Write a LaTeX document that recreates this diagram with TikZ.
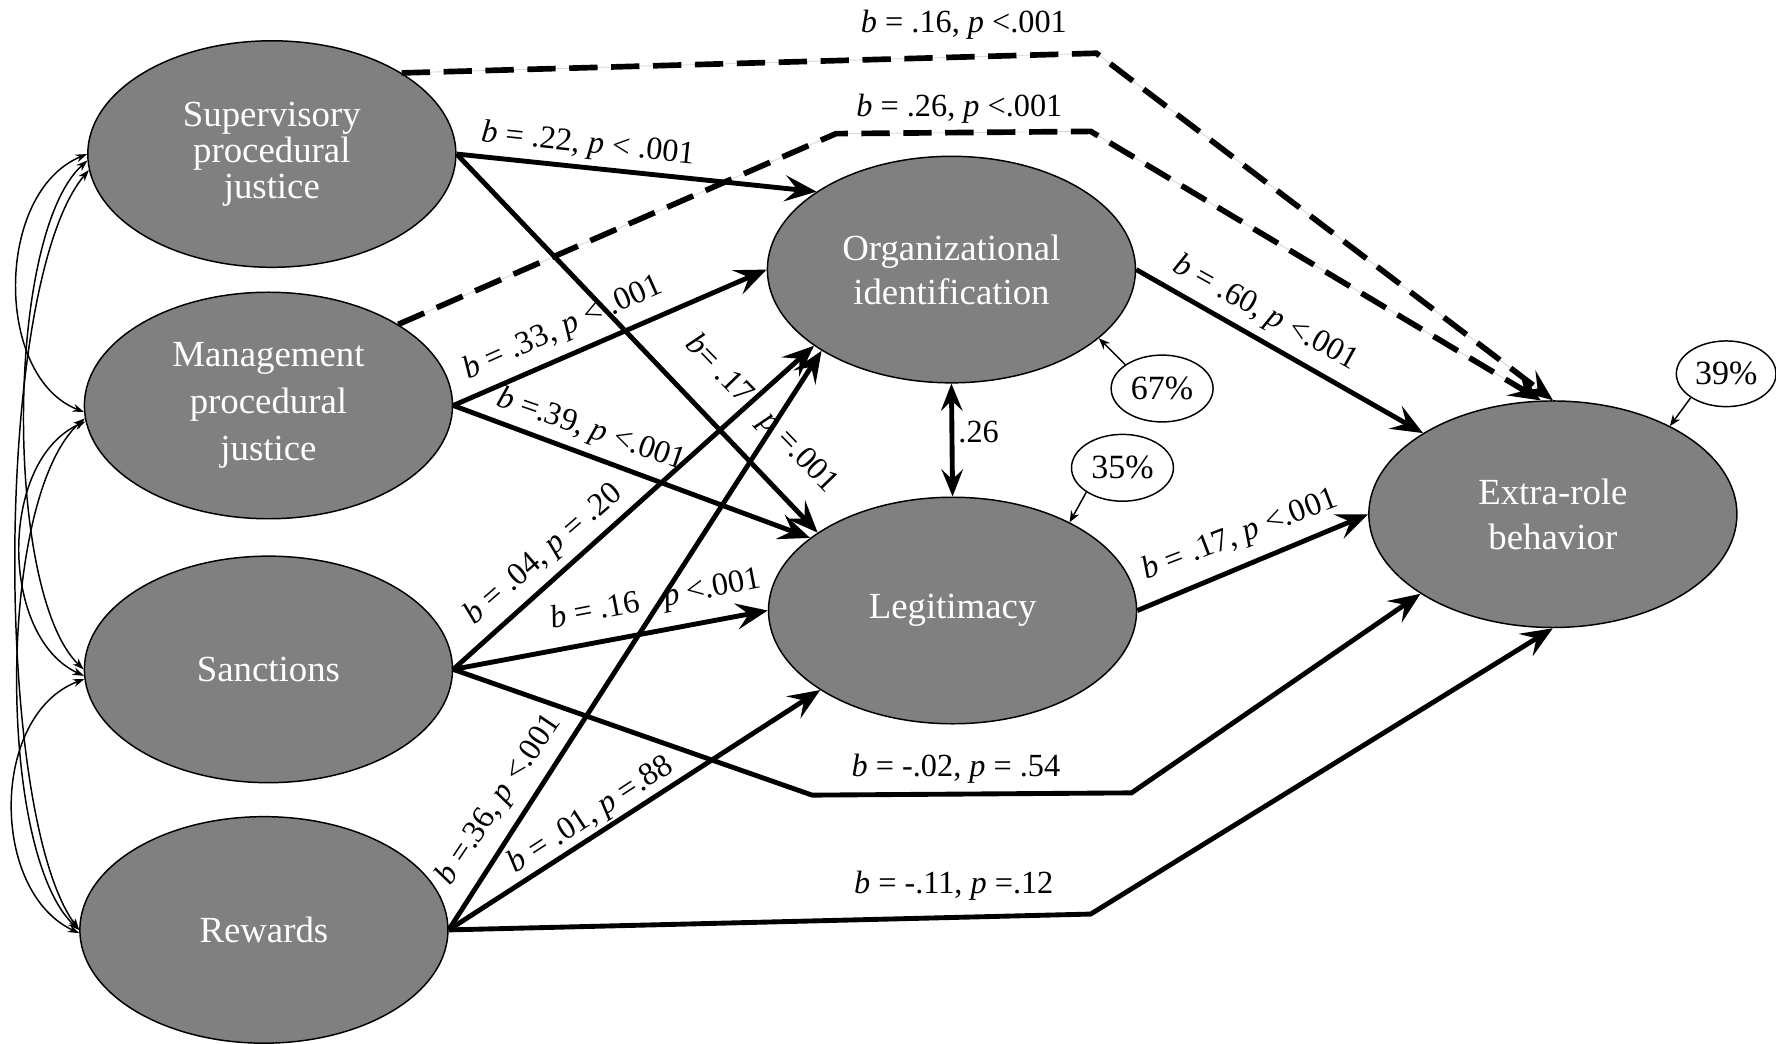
\documentclass[tikz,border=0pt]{standalone}
\usepackage{fontspec}
\setmainfont{Liberation Serif}
\usetikzlibrary{shapes.geometric,arrows.meta}
\definecolor{nodegray}{RGB}{128,128,128}
\tikzset{
  lat/.style={ellipse, draw=black, line width=1.3pt, fill=nodegray, text=white,
    minimum width=325pt, minimum height=200pt, inner sep=0pt, align=center},
  pct/.style={ellipse, draw=black, line width=1.3pt, fill=white, inner sep=0pt,
    minimum width=90pt, minimum height=59pt, font=\fontsize{30}{32}\selectfont},
  conn/.style={line width=4.3pt, -{Stealth[length=28pt,width=23pt,inset=11pt]}},
  dconn/.style={conn, line width=5pt, dash pattern=on 25pt off 12pt,
    preaction={draw=black!15, line width=0.8pt, solid, arrows=-}},
  twoway/.style={line width=4.3pt, {Stealth[length=24pt,width=19pt,inset=9pt]}-{Stealth[length=24pt,width=19pt,inset=9pt]}},
  corr/.style={line width=1.3pt, {Stealth[length=10pt,width=7pt]}-{Stealth[length=10pt,width=7pt]}},
  resid/.style={line width=1.3pt, -{Stealth[length=10pt,width=8pt]}},
  lbl/.style={font=\fontsize{28.5}{30}\selectfont, inner sep=0pt},
}
\begin{document}
\begin{tikzpicture}[x=1pt,y=-1pt]
\useasboundingbox (0,0) rectangle (1568,921);

% latent / observed variables
\node[lat, font=\fontsize{32.5}{32}\selectfont] (S) at (240,136) {Supervisory\\procedural\\justice};
\node[lat, font=\fontsize{32.5}{41.5}\selectfont] (M) at (237,358) {Management\\procedural\\justice};
\node[lat, font=\fontsize{32.5}{36}\selectfont] (Sa) at (237,591) {Sanctions};
\node[lat, font=\fontsize{32.5}{36}\selectfont] (R) at (233,821) {Rewards};
\node[lat, font=\fontsize{32.5}{39}\selectfont] (O) at (840,238) {Organizational\\identification};
\node[lat, font=\fontsize{32.5}{36}\selectfont] (L) at (841,539) {Legitimacy};
\node[lat, font=\fontsize{32.5}{40}\selectfont] (E) at (1371,454) {Extra-role\\behavior};

% explained variance
\node[pct] (p67) at (1026,343) {67\%};
\node[pct] (p35) at (991,413) {35\%};
\node[pct, minimum width=88pt, minimum height=58pt] (p39) at (1524,330) {39\%};

% bend points
\coordinate (d1a) at (968,47);
\coordinate (d2a) at (738,118);
\coordinate (d2b) at (963,116);
\coordinate (s1) at (717,702);
\coordinate (s2) at (999,700);
\coordinate (r1) at (963,807);

% paths
\draw[conn] (S.east) -- (O.150);
\draw[conn] (S.east) -- (L.150);
\draw[conn] (M.east) -- (O.west);
\draw[conn] (M.east) -- (L.153);
\draw[conn] (Sa.east) -- (O.209);
\draw[conn] (Sa.east) -- (L.west);
\draw[conn] (R.east) -- (O.212);
\draw[conn] (R.east) -- (L.211);
\draw[conn] (Sa.east) -- (s1) -- (s2) -- (E.211);
\draw[conn] (R.east) -- (r1) -- (E.south);
\draw[conn] (O.east) -- (E.148);
\draw[conn] (L.east) -- (E.west);
\draw[dconn] (S.32) -- (d1a) -- (E.90);
\draw[dconn] (M.32) -- (d2a) -- (d2b) -- (E.96);
\draw[twoway] (O.south) -- (L.north);

% residual arrows
\draw[resid] (p67.147) -- (O.335);
\draw[resid] (p35.214) -- (L.37);
\draw[resid] (p39.214) -- (E.37);

% correlations among predictors
\draw[corr] (S.180) .. controls (-5,170) and (-5,333) .. (M.182);
\draw[corr] (S.182) .. controls (4,208) and (4,524) .. (Sa.180);
\draw[corr] (S.185) .. controls (-6,250) and (-6,719) .. (R.180);
\draw[corr] (M.185) .. controls (-1,406) and (-1,562) .. (Sa.182);
\draw[corr] (M.184) .. controls (-3,438) and (-3,753) .. (R.180);
\draw[corr] (Sa.183) .. controls (-9,631) and (-9,787) .. (R.181);

% labels
\node[lbl] (l16) at (851,22) {\textit{b} = .16, \textit{p} <.001};
\node[lbl] (l26) at (847,96) {\textit{b} = .26, \textit{p} <.001};
\node[lbl, rotate=-6] (l22) at (519,128) {\textit{b} = .22, \textit{p} < .001};
\node[lbl, rotate=24] (l33) at (497,290) {\textit{b} = .33, \textit{p} < .001};
\node[lbl, rotate=-19] (l39) at (522,380) {\textit{b} =.39, \textit{p} <.001};
\node[lbl, rotate=-46] (l17a) at (672,366) {\textit{b}= .17 \ \ \textit{p} =.001};
\node[lbl, rotate=41] (l04) at (480,490) {\textit{b} = .04, \textit{p} = .20};
\node[lbl, rotate=11] (l16b) at (579,530) {\textit{b} = .16 \ \ \textit{p} <.001};
\node[lbl, rotate=56] (l36) at (441,706) {\textit{b} =.36, \textit{p} <.001};
\node[lbl, rotate=33] (l01) at (522,720) {\textit{b} = .01, \textit{p} =.88};
\node[lbl] (l02) at (844,679) {\textit{b} = -.02, \textit{p} = .54};
\node[lbl] (l11) at (842,782) {\textit{b} = -.11, \textit{p} =.12};
\node[lbl] (l26c) at (864,381) {.26};
\node[lbl, rotate=-29] (l60) at (1117,277) {\textit{b} = .60, \textit{p} <.001};
\node[lbl, rotate=21] (l17) at (1095,473) {\textit{b} = .17, \textit{p} <.001};
\end{tikzpicture}
\end{document}
